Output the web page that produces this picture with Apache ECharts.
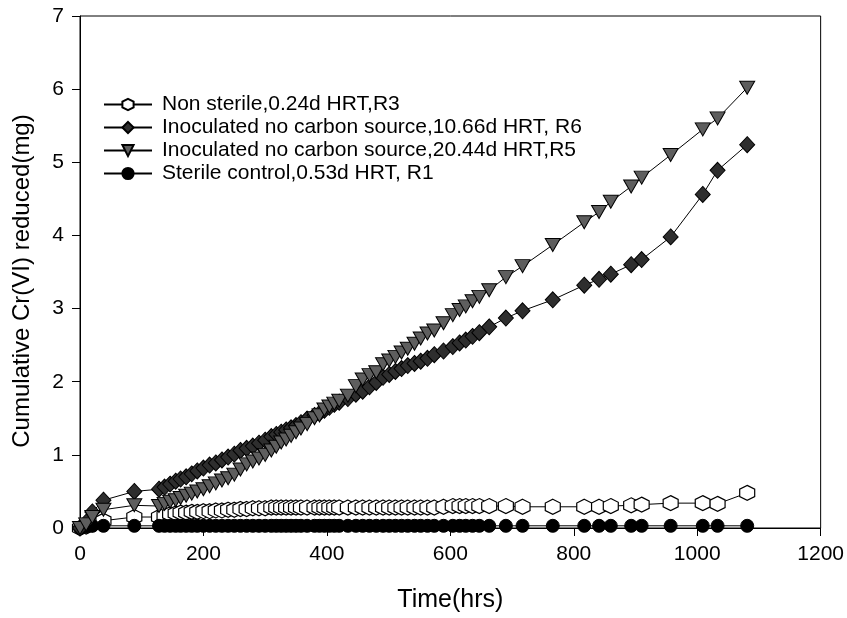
<!DOCTYPE html>
<html>
<head>
<meta charset="utf-8">
<script src="https://cdn.jsdelivr.net/npm/echarts@6/dist/echarts.min.js"></script>
<style>html,body{margin:0;padding:0;background:#fff}#c{width:847px;height:618px}</style>
</head>
<body>
<div id="c"></div>
<script>
const hours = [0, 10, 20, 38, 88, 128, 137, 146, 155, 163, 172, 181, 190, 200, 210, 220, 230, 240, 250, 260, 270, 280, 290, 300, 310, 318, 326, 334, 342, 350, 358, 368, 380, 388, 396, 404, 412, 420, 434, 447, 458, 469, 480, 491, 501, 511, 521, 531, 542, 552, 563, 574, 589, 604, 615, 625, 636, 647, 663, 690, 717, 766, 817, 841, 860, 893, 910, 957, 1009, 1033, 1081];

const r3 = [0, 0.02, 0.05, 0.10, 0.15, 0.15, 0.17, 0.19, 0.20, 0.21, 0.21, 0.22, 0.22, 0.23, 0.23, 0.24, 0.24, 0.25, 0.25, 0.26, 0.26, 0.27, 0.27, 0.27, 0.28, 0.28, 0.28, 0.28, 0.28, 0.28, 0.28, 0.28, 0.28, 0.28, 0.28, 0.28, 0.28, 0.28, 0.28, 0.28, 0.28, 0.28, 0.28, 0.28, 0.28, 0.28, 0.28, 0.28, 0.28, 0.28, 0.28, 0.28, 0.29, 0.30, 0.30, 0.30, 0.30, 0.30, 0.30, 0.30, 0.29, 0.29, 0.29, 0.29, 0.30, 0.31, 0.32, 0.34, 0.34, 0.33, 0.48];

const r6 = [0, 0.08, 0.22, 0.38, 0.50, 0.53, 0.56, 0.60, 0.64, 0.67, 0.70, 0.74, 0.78, 0.82, 0.86, 0.89, 0.93, 0.97, 1.01, 1.06, 1.09, 1.12, 1.16, 1.20, 1.25, 1.28, 1.31, 1.34, 1.37, 1.40, 1.44, 1.49, 1.54, 1.57, 1.61, 1.65, 1.69, 1.72, 1.77, 1.83, 1.87, 1.93, 1.99, 2.06, 2.10, 2.14, 2.18, 2.22, 2.25, 2.28, 2.32, 2.37, 2.42, 2.48, 2.53, 2.57, 2.62, 2.67, 2.75, 2.87, 2.97, 3.12, 3.32, 3.40, 3.47, 3.60, 3.67, 3.98, 4.56, 4.89, 5.24];

const r5 = [0, 0.05, 0.15, 0.25, 0.31, 0.30, 0.33, 0.36, 0.38, 0.41, 0.44, 0.47, 0.50, 0.53, 0.57, 0.61, 0.65, 0.68, 0.73, 0.80, 0.87, 0.91, 0.95, 1.00, 1.06, 1.11, 1.17, 1.21, 1.26, 1.31, 1.36, 1.42, 1.50, 1.54, 1.62, 1.66, 1.70, 1.74, 1.81, 1.94, 2.03, 2.09, 2.13, 2.24, 2.29, 2.34, 2.40, 2.45, 2.52, 2.59, 2.66, 2.70, 2.80, 2.91, 2.98, 3.03, 3.10, 3.16, 3.25, 3.43, 3.58, 3.87, 4.18, 4.32, 4.46, 4.67, 4.79, 5.10, 5.45, 5.60, 6.02];

const r1 = [0, 0.02, 0.03, 0.03, 0.03, 0.03, 0.03, 0.03, 0.03, 0.03, 0.03, 0.03, 0.03, 0.03, 0.03, 0.03, 0.03, 0.03, 0.03, 0.03, 0.03, 0.03, 0.03, 0.03, 0.03, 0.03, 0.03, 0.03, 0.03, 0.03, 0.03, 0.03, 0.03, 0.03, 0.03, 0.03, 0.03, 0.03, 0.03, 0.03, 0.03, 0.03, 0.03, 0.03, 0.03, 0.03, 0.03, 0.03, 0.03, 0.03, 0.03, 0.03, 0.03, 0.03, 0.03, 0.03, 0.03, 0.03, 0.03, 0.03, 0.03, 0.03, 0.03, 0.03, 0.03, 0.03, 0.03, 0.03, 0.03, 0.03, 0.03];

const seriesNames = [
  'Non sterile,0.24d HRT,R3',
  'Inoculated no carbon source,10.66d HRT, R6',
  'Inoculated no carbon source,20.44d HRT,R5',
  'Sterile control,0.53d HRT, R1'
];

const xTicks = [0, 200, 400, 600, 800, 1000, 1200];
const yTicks = [0, 1, 2, 3, 4, 5, 6, 7];

const pair = arr => hours.map((h, i) => [h, arr[i]]);
const hexPath = 'path://M0,-1 L0.866,-0.5 L0.866,0.5 L0,1 L-0.866,0.5 L-0.866,-0.5 Z';
const font = 'Liberation Sans, Arial, sans-serif';

const chart = echarts.init(document.getElementById('c'), null, {renderer: 'canvas'});
const lineStyle = {color: '#000', width: 1};

chart.setOption({
  animation: false,
  backgroundColor: '#fff',
  textStyle: {fontFamily: font, color: '#000'},
  grid: {left: 80, right: 25, top: 16, bottom: 90, show: true, borderColor: '#000', borderWidth: 1},
  legend: {
    left: 98, top: 89, orient: 'vertical',
    itemWidth: 48, itemHeight: 14, itemGap: 2,
    textStyle: {fontFamily: font, fontSize: 21, lineHeight: 21, color: '#000', padding: [0, 0, 0, 5]},
    data: seriesNames
  },
  xAxis: {
    type: 'value', min: xTicks[0], max: xTicks[xTicks.length - 1], interval: 200,
    name: 'Time(hrs)', nameLocation: 'middle', nameGap: 60,
    nameTextStyle: {fontFamily: font, fontSize: 25, color: '#000'},
    axisLine: {show: true, lineStyle: {color: '#000', width: 1}},
    axisTick: {show: true, inside: false, length: 8, lineStyle: {color: '#000'}},
    axisLabel: {fontFamily: font, fontSize: 21, color: '#000', margin: 16, formatter: v => String(v)},
    splitLine: {show: false}
  },
  yAxis: {
    type: 'value', min: yTicks[0], max: yTicks[yTicks.length - 1], interval: 1,
    name: 'Cumulative Cr(VI) reduced(mg)', nameLocation: 'middle', nameGap: 46,
    nameTextStyle: {fontFamily: font, fontSize: 24, color: '#000', padding: [0, 18, 0, 0]},
    axisLine: {show: true, lineStyle: {color: '#000', width: 1}},
    axisTick: {show: true, inside: false, length: 8, lineStyle: {color: '#000'}},
    axisLabel: {fontFamily: font, fontSize: 21, color: '#000', margin: 16, formatter: v => String(v)},
    splitLine: {show: false}
  },
  series: [
    {
      name: seriesNames[0], type: 'line', data: pair(r3),
      symbol: hexPath, symbolSize: [15, 15], showAllSymbol: true,
      lineStyle: lineStyle,
      itemStyle: {color: '#fff', borderColor: '#000', borderWidth: 1.2},
      z: 2
    },
    {
      name: seriesNames[1], type: 'line', data: pair(r6),
      symbol: 'diamond', symbolSize: [15, 16], showAllSymbol: true,
      lineStyle: lineStyle,
      itemStyle: {color: '#2e2e2e', borderColor: '#000', borderWidth: 1},
      z: 3
    },
    {
      name: seriesNames[2], type: 'line', data: pair(r5),
      symbol: 'triangle', symbolRotate: 180, symbolSize: [15, 13], showAllSymbol: true,
      lineStyle: lineStyle,
      itemStyle: {color: '#5e5e5e', borderColor: '#000', borderWidth: 1},
      z: 4
    },
    {
      name: seriesNames[3], type: 'line', data: pair(r1),
      symbol: 'circle', symbolSize: 13, showAllSymbol: true,
      lineStyle: lineStyle,
      itemStyle: {color: '#000', borderColor: '#000', borderWidth: 1},
      z: 2
    }
  ]
});
</script>
</body>
</html>
